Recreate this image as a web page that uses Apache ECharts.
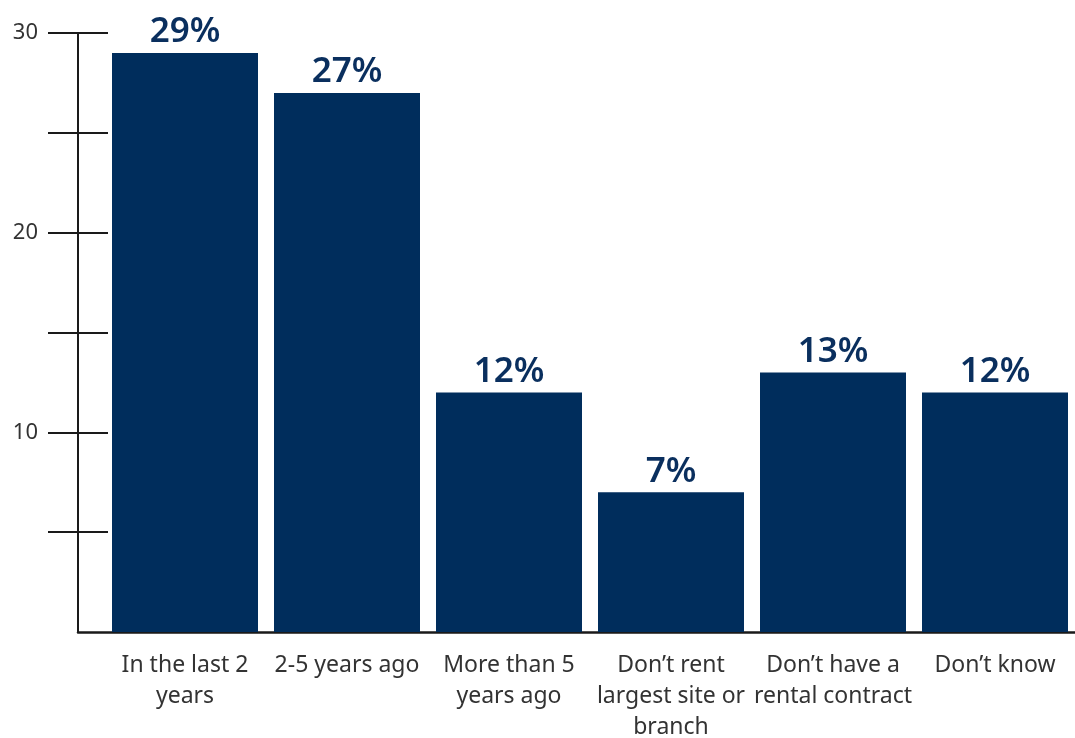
<!DOCTYPE html>
<html>
<head>
<meta charset="utf-8">
<script src="https://cdn.jsdelivr.net/npm/echarts@6/dist/echarts.min.js"></script>
<style>
html,body{margin:0;padding:0;background:#fff;}
#main{width:1075px;height:738px;}
</style>
</head>
<body>
<div id="main"></div>
<script>
const categories = ["In the last 2\nyears", "2-5 years ago", "More than 5\nyears ago", "Don\u2019t rent\nlargest site or\nbranch", "Don\u2019t have a\nrental contract", "Don\u2019t know"];
const values = [29, 27, 12, 7, 13, 12];
const yMin = 0, yMax = 30, yStep = 5;
const yLabelled = [10, 20, 30];

const font = "Noto Sans";
const chart = echarts.init(document.getElementById('main'));
chart.setOption({
  animation: false,
  backgroundColor: '#fff',
  grid: [
    { left: 104, width: 972, top: 33, bottom: 106, outerBoundsMode: 'none', containLabel: false },
    { left: 78, right: 0, top: 33, bottom: 106, outerBoundsMode: 'none', containLabel: false },
    { left: 48, width: 60, top: 33, bottom: 106, outerBoundsMode: 'none', containLabel: false }
  ],
  xAxis: [
    { gridIndex: 0, type: 'category', data: categories,
      axisLine: { show: false }, axisTick: { show: false },
      axisLabel: { color: '#333', fontFamily: font, fontSize: 23, lineHeight: 31, margin: 18, interval: 0 } },
    { gridIndex: 1, type: 'value', min: 0, max: 1, axisLine: { show: true, lineStyle: { color: '#1a1a1a', width: 2.5 } },
      axisTick: { show: false }, axisLabel: { show: false }, splitLine: { show: false } },
    { gridIndex: 2, type: 'value', min: 0, max: 1, show: false }
  ],
  yAxis: [
    { gridIndex: 0, type: 'value', min: yMin, max: yMax, interval: yStep, show: false },
    { gridIndex: 1, type: 'value', min: yMin, max: yMax, interval: yStep,
      axisLine: { show: true, lineStyle: { color: '#1a1a1a', width: 2 } },
      axisTick: { show: false }, axisLabel: { show: false }, splitLine: { show: false } },
    { gridIndex: 2, type: 'value', min: yMin, max: yMax, interval: yStep,
      axisLine: { show: false }, axisTick: { show: false },
      splitLine: { show: true, showMinLine: false, lineStyle: { color: '#1a1a1a', width: 2 } },
      axisLabel: { color: '#333', fontFamily: font, fontSize: 22, margin: 10,
        formatter: v => yLabelled.includes(v) ? String(v) : '' } }
  ],
  series: [{
    type: 'bar', xAxisIndex: 0, yAxisIndex: 0, data: values, barWidth: 146,
    itemStyle: { color: '#002d5c' },
    label: { show: true, position: 'top', distance: 3, formatter: p => p.value + '%',
      color: '#0a2f5e', fontFamily: font, fontWeight: 600, fontSize: 35 }
  }]
});
</script>
</body>
</html>
